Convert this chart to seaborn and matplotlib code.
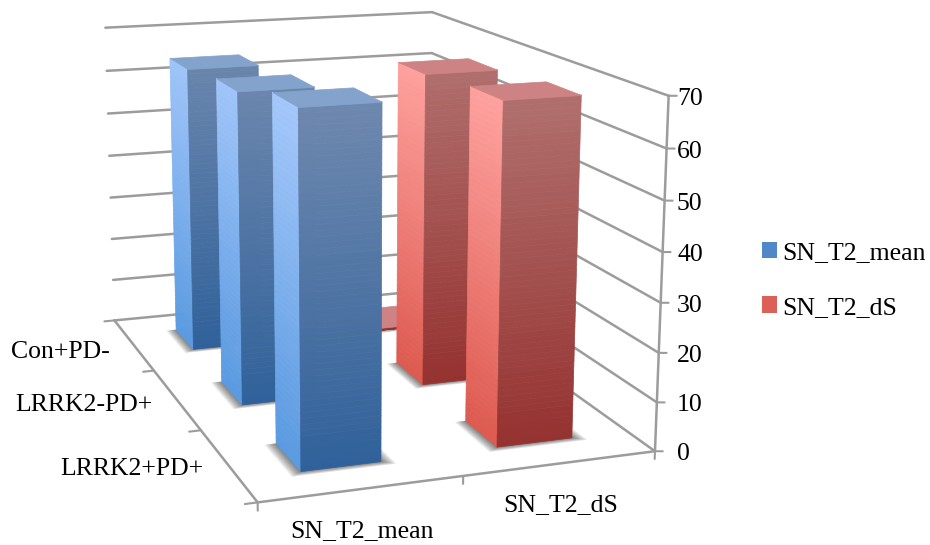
import numpy as np
import seaborn as sns
import matplotlib
matplotlib.use("Agg")
import matplotlib.pyplot as plt
from matplotlib.patches import Patch
from mpl_toolkits.mplot3d import proj3d
from mpl_toolkits.mplot3d.art3d import Poly3DCollection

categories = ["LRRK2+PD+", "LRRK2-PD+", "Con+PD-"]
series = ["SN_T2_mean", "SN_T2_dS"]
z_ticks = [0, 10, 20, 30, 40, 50, 60, 70]
mean_vals = [69.9, 66.0, 64.2]
ds_vals = [68.8, 67.3, 0.6]

sns.set_theme(style="white")
plt.rcParams['font.family'] = ['Liberation Serif', 'DejaVu Serif']

W, H = 930, 545
fig = plt.figure(figsize=(W / 100, H / 100), dpi=100)
ax = fig.add_axes([-0.02417, -0.10422, 0.79547, 1.3574], projection='3d', computed_zorder=False)
ax.set_xlim(0, 2)
ax.set_ylim(0, 3)
ax.set_zlim(0, 70)
ax.set_axis_off()
ax.view_init(elev=13.8438, azim=-109.125)
ax.set_proj_type('persp', focal_length=0.4913)
ax.set_box_aspect((1, 1.5094, 0.8716))
fig.canvas.draw()

grid_color = "#9c9c9c"
font_size = 18.5


def to_pixels(x, y, z):
    xv, yv, _ = proj3d.proj_transform(x, y, z, ax.get_proj())
    return ax.transData.transform((xv, yv))


def label(x, y, z, dx, dy, text, ha):
    px, py = to_pixels(x, y, z)
    fig.text((px + dx) / W, (py - dy) / H, text, fontsize=font_size, ha=ha, va='center', color='black')


# walls, floor edges and ticks
for z in z_ticks:
    ax.plot([0, 2], [3, 3], [z, z], color=grid_color, lw=1.8, zorder=1)
    ax.plot([2, 2], [3, 0], [z, z], color=grid_color, lw=1.8, zorder=1)
    ax.plot([2, 2.035], [0, -0.013], [z, z], color=grid_color, lw=1.5, zorder=1)
    py = to_pixels(2, 0, z)[1]
    fig.text(677 / W, (py - 3) / H, str(z), fontsize=font_size, ha='left', va='center', color='black')
ax.plot([2, 2], [0, 0], [0, 70], color=grid_color, lw=1.8, zorder=1)
ax.plot([0, 2], [0, 0], [0, 0], color=grid_color, lw=1.8, zorder=1)
ax.plot([0, 0], [0, 3], [0, 0], color=grid_color, lw=1.8, zorder=1)
for x in range(3):
    ax.plot([x, x], [0, 0], [0, -1.6], color=grid_color, lw=1.5, zorder=1)
for y in range(4):
    ax.plot([0, -0.06], [y, y], [0, 0], color=grid_color, lw=1.5, zorder=1)

for i, name in enumerate(categories):
    label(0, i + 0.5, 0, -24, 4 + 2 * i, name, 'right')
for i, name in enumerate(series):
    label(i + 0.5, 0, 0, 0, 42, name, 'center')

bar_w = 0.4
n_slices = 60
ramp = 70
blue = dict(top="#84a3cc", front=("#6e88ae", "#30619a"), side=("#a5c8fb", "#5a9ae0"))
red = dict(top="#cd8383", front=("#b0706e", "#953230"), side=("#ffa3a0", "#dd5a50"))


def draw_bar(x0, y0, val, pal, order):
    x1, y1 = x0 + bar_w, y0 + bar_w
    # soft shadow on the floor
    for e in np.linspace(1, 0.05, 8):
        ex, ey = 0.06 * e, 0.05 * e
        fp = [(x0 - ex, y0 - ey, 0), (x1 + ex, y0 - ey, 0), (x1 + ex, y1, 0), (x0 - ex, y1, 0)]
        ax.add_collection3d(Poly3DCollection([fp], facecolor=(0, 0, 0, 0.08), edgecolor='none', zorder=2))

    front = sns.blend_palette(pal["front"][::-1], ramp + 1)
    side = sns.blend_palette(pal["side"][::-1], ramp + 1)
    edges = np.linspace(0, val, n_slices + 1)
    side_q, side_c, front_q, front_c = [], [], [], []
    for k in range(n_slices):
        z0, z1 = edges[k], edges[k + 1]
        idx = int(z1)
        side_q.append([(x0, y0, z0), (x0, y1, z0), (x0, y1, z1), (x0, y0, z1)])
        side_c.append(side[idx])
        front_q.append([(x0, y0, z0), (x1, y0, z0), (x1, y0, z1), (x0, y0, z1)])
        front_c.append(front[idx])
    ax.add_collection3d(Poly3DCollection(side_q, facecolors=side_c, edgecolors=side_c, linewidths=0.5, zorder=order))
    ax.add_collection3d(Poly3DCollection(front_q, facecolors=front_c, edgecolors=front_c, linewidths=0.5, zorder=order + 0.1))
    top_q = [(x0, y0, val), (x1, y0, val), (x1, y1, val), (x0, y1, val)]
    ax.add_collection3d(Poly3DCollection([top_q], facecolors=pal["top"], edgecolors=pal["top"], linewidths=0.5, zorder=order + 0.2))


order = 10
for j in (2, 1, 0):
    draw_bar(1.3, j + 0.3, ds_vals[j], red, order)
    order += 1
    draw_bar(0.3, j + 0.3, mean_vals[j], blue, order)
    order += 1

handles = [Patch(facecolor="#4f87c8", edgecolor="none"), Patch(facecolor="#dc5f58", edgecolor="none")]
fig.legend(handles, series, loc='upper left', bbox_to_anchor=(0.819, 0.556), frameon=False, fontsize=font_size,
           labelcolor='black', handlelength=0.6, handleheight=0.6, handletextpad=0.22, labelspacing=1.25,
           borderpad=0, borderaxespad=0)

fig.savefig("out.png", dpi=100)
